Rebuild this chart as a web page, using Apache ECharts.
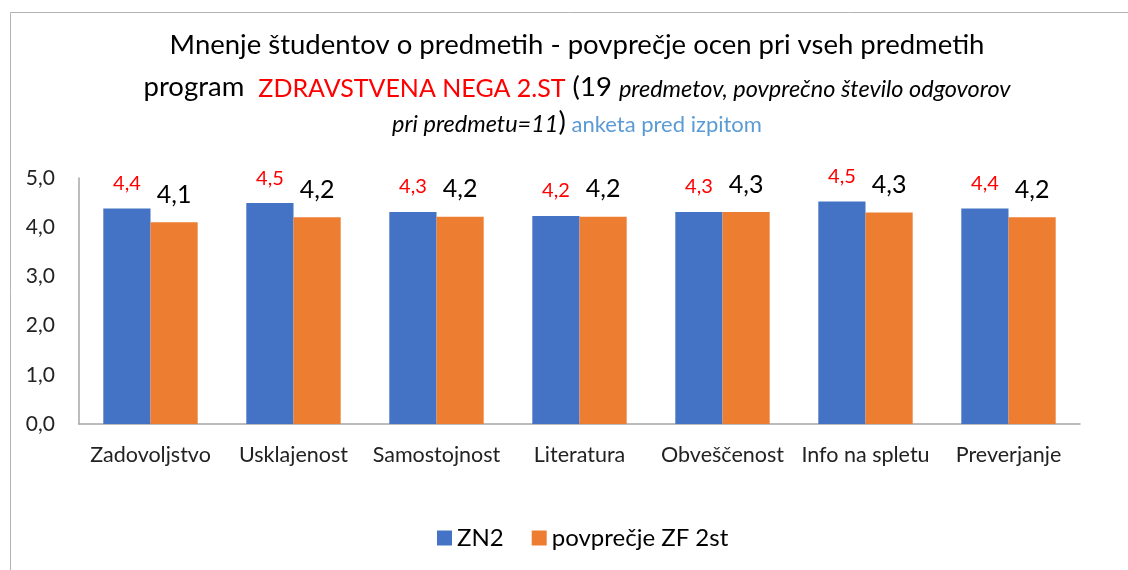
<!DOCTYPE html>
<html><head><meta charset="utf-8">
<script src="https://cdn.jsdelivr.net/npm/echarts@6/dist/echarts.min.js"></script>
<style>html,body{margin:0;padding:0;background:#fff}#c{width:1128px;height:570px}</style>
</head><body><div id="c"></div>
<script>
const categories = ['Zadovoljstvo','Usklajenost','Samostojnost','Literatura','Obveščenost','Info na spletu','Preverjanje'];
const seriesNames = ['ZN2','povprečje ZF 2st'];
const zn2 = [4.38, 4.49, 4.31, 4.23, 4.31, 4.52, 4.38];
const zf2st = [4.1, 4.2, 4.21, 4.21, 4.31, 4.3, 4.2];
const yTicks = [0,1,2,3,4,5];

const FONT = 'Lato';
const fmt = v => v.toFixed(1).replace('.', ',');
const chart = echarts.init(document.getElementById('c'), null, {renderer:'canvas'});
const base = {fontFamily:FONT,fontWeight:'normal',lineHeight:32,verticalAlign:'bottom'};
chart.setOption({
  animation:false,
  textStyle:{fontFamily:FONT},
  graphic:[{type:'rect',shape:{x:10.5,y:12.5,width:1300,height:700},style:{fill:'none',stroke:'#B3B3B3',lineWidth:1},silent:true}],
  title:[
    {text:'Mnenje študentov o predmetih - povprečje ocen pri vseh predmetih',left:577,top:31,textAlign:'center',padding:0,
     textStyle:{fontFamily:FONT,fontSize:27.5,fontWeight:'normal',color:'#000'}},
    {text:'{k|program  }{r|ZDRAVSTVENA NEGA 2.ST}{k| (19 }{i|predmetov, povprečno število odgovorov}',left:577,top:69,textAlign:'center',padding:0,
     textStyle:{fontWeight:'normal',rich:{
       k:Object.assign({},base,{fontSize:27.5,color:'#000'}),
       r:Object.assign({},base,{fontSize:25,color:'#FF0000'}),
       i:Object.assign({},base,{fontSize:23.5,fontStyle:'italic',color:'#000'})
     }}},
    {text:'{i|pri predmetu=11}{k|)}{b| anketa pred izpitom}',left:577,top:104,textAlign:'center',padding:0,
     textStyle:{fontWeight:'normal',rich:{
       k:Object.assign({},base,{fontSize:27.5,color:'#000'}),
       i:Object.assign({},base,{fontSize:23.5,fontStyle:'italic',color:'#000'}),
       b:Object.assign({},base,{fontSize:22,color:'#5B9BD5'})
     }}}
  ],
  legend:{data:seriesNames,left:432,top:521,itemWidth:15,itemHeight:15,itemGap:28,icon:'rect',
    textStyle:{fontFamily:FONT,fontSize:24,color:'#000'}},
  grid:{left:79,right:48,top:178,bottom:146},
  xAxis:{type:'category',data:categories,
    axisLine:{lineStyle:{color:'#A6A6A6',width:1.5}},axisTick:{show:false},
    axisLabel:{interval:0,fontFamily:FONT,fontSize:21.5,color:'#222',margin:20}},
  yAxis:{type:'value',min:yTicks[0],max:yTicks[yTicks.length-1],interval:1,
    axisLine:{show:true,lineStyle:{color:'#A6A6A6',width:1.5}},axisTick:{show:false},splitLine:{show:false},
    axisLabel:{fontFamily:FONT,fontSize:21,color:'#222',margin:24,formatter:v=>fmt(v)}},
  series:[
    {name:seriesNames[0],type:'bar',data:zn2,barGap:'0%',barCategoryGap:'34%',
     itemStyle:{color:'#4472C4'},
     label:{show:true,position:'top',distance:15,fontFamily:FONT,fontSize:20,color:'#FF0000',formatter:p=>fmt(p.value)}},
    {name:seriesNames[1],type:'bar',data:zf2st,barGap:'0%',barCategoryGap:'34%',
     itemStyle:{color:'#ED7D31'},
     label:{show:true,position:'top',distance:15,fontFamily:FONT,fontSize:25,color:'#000',formatter:p=>fmt(p.value)}}
  ]
});
</script></body></html>
